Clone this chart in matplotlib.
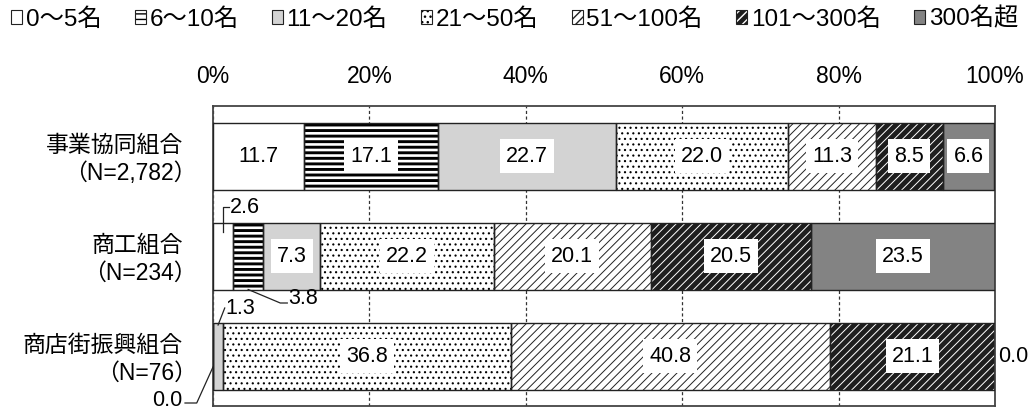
import matplotlib
matplotlib.use("Agg")
import matplotlib.pyplot as plt
from matplotlib.patches import Patch
from matplotlib.legend_handler import HandlerTuple

plt.rcParams["font.family"] = ["Liberation Sans", "Noto Sans CJK JP", "DejaVu Sans"]

# ---- data -------------------------------------------------------------
groups = ["事業協同組合", "商工組合", "商店街振興組合"]
group_n = ["（N=2,782）", "（N=234）", "（N=76）"]
size_classes = ["0〜5名", "6〜10名", "11〜20名", "21〜50名",
                "51〜100名", "101〜300名", "300名超"]

kyodo = [11.7, 17.1, 22.7, 22.0, 11.3, 8.5, 6.6]
shoko = [2.6, 3.8, 7.3, 22.2, 20.1, 20.5, 23.5]
shotengai = [0.0, 0.0, 1.3, 36.8, 40.8, 21.1, 0.0]
shares = [kyodo, shoko, shotengai]

x_ticks = [0, 20, 40, 60, 80, 100]
x_tick_labels = ["0%", "20%", "40%", "60%", "80%", "100%"]

# ---- styles per size class -------------------------------------------
styles = [
    dict(face="white", hatch=None, hcolor="none", hlw=1.0),
    dict(face="white", hatch="---", hcolor="black", hlw=2.1),
    dict(face="#d3d3d3", hatch=None, hcolor="none", hlw=1.0),
    dict(face="white", hatch="...", hcolor="black", hlw=0.8),
    dict(face="white", hatch="////", hcolor="#222222", hlw=0.7),
    dict(face="#1e1e1e", hatch="////", hcolor="white", hlw=0.7),
    dict(face="#838383", hatch=None, hcolor="none", hlw=1.0),
]
edge_col = "#222222"
bar_h = 0.67
label_fs = 15.5

fig = plt.figure(figsize=(10.34, 4.12), dpi=100)
ax = fig.add_axes([213 / 1034, 6 / 412, 782 / 1034, 300 / 412])

rows = list(range(len(groups)))
lefts = [0.0] * len(groups)
for j, st in enumerate(styles):
    widths = [shares[i][j] for i in rows]
    with plt.rc_context({"hatch.linewidth": st["hlw"]}):
        bars = ax.barh(rows, widths, left=lefts, height=bar_h,
                       color=st["face"], edgecolor=st["hcolor"],
                       hatch=st["hatch"], linewidth=0, zorder=2)
    for p in bars:
        if hasattr(p, "set_hatch_linewidth"):
            p.set_hatch_linewidth(st["hlw"])
    ax.barh(rows, widths, left=lefts, height=bar_h, fill=False,
            edgecolor=edge_col, linewidth=1.0, zorder=3)
    # value labels inside wide segments
    for i in rows:
        v = shares[i][j]
        if v >= 5:
            ax.text(lefts[i] + v / 2, i, f"{v:.1f}", ha="center", va="center",
                    fontsize=label_fs, zorder=5,
                    bbox=dict(boxstyle="square,pad=0.28", fc="white", ec="none"))
    lefts = [lefts[i] + widths[i] for i in rows]


def seg_mid(i, j):
    return sum(shares[i][:j]) + shares[i][j] / 2


# ---- call-outs for narrow segments -----------------------------------
line_kw = dict(color=edge_col, linewidth=0.9, zorder=6, clip_on=False)

# 商工組合 0〜5名
m = seg_mid(1, 0)
ax.plot([m, m, 2.0], [0.76, 0.507, 0.507], **line_kw)
ax.text(2.1, 0.51, f"{shares[1][0]:.1f}", ha="left", va="center", fontsize=label_fs)

# 商工組合 6〜10名
m = seg_mid(1, 1)
ax.plot([m, 8.6, 9.5], [1.335, 1.47, 1.47], **line_kw)
ax.text(9.6, 1.43, f"{shares[1][1]:.1f}", ha="left", va="center", fontsize=label_fs)

# 商店街振興組合 11〜20名
m = seg_mid(2, 2)
ax.plot([m, 1.5], [1.69, 1.52], **line_kw)
ax.text(1.6, 1.53, f"{shares[2][2]:.1f}", ha="left", va="center", fontsize=label_fs)

# 商店街振興組合 0〜5名
ax.plot([0.0, -2.08, -3.58], [2.11, 2.47, 2.47], **line_kw)
ax.text(-3.9, 2.5, f"{shares[2][0]:.1f}", ha="right", va="baseline",
        fontsize=label_fs, clip_on=False)

# 商店街振興組合 300名超
ax.text(100.4, 2.0, f"{shares[2][6]:.1f}", ha="left", va="center",
        fontsize=label_fs, clip_on=False)

# ---- axes ------------------------------------------------------------
ax.set_xlim(0, 100)
ax.set_ylim(2.5, -0.5)
ax.set_yticks([])
ax.xaxis.tick_top()
ax.set_xticks(x_ticks)
ax.set_xticklabels(x_tick_labels)
ax.tick_params(axis="x", length=0, pad=13, labelsize=16.5)
ax.set_axisbelow(True)
ax.grid(axis="x", linestyle=(0, (2.5, 2)), color="#333333", linewidth=0.9)
for sp in ax.spines.values():
    sp.set_linewidth(1.3)
    sp.set_color("#444444")

for i in rows:
    ax.text(-3.84, i - 0.11, groups[i], ha="right", va="center",
            fontsize=16.5, clip_on=False)
    ax.text(-2.1, i + 0.17, group_n[i], ha="right", va="center",
            fontsize=16.5, clip_on=False)

# ---- legend ------------------------------------------------------------
handles = []
for st in styles:
    fill = Patch(facecolor=st["face"], edgecolor=st["hcolor"],
                 hatch=st["hatch"], linewidth=0)
    outline = Patch(fill=False, edgecolor=edge_col, linewidth=0.8)
    handles.append((fill, outline))

fig.legend(handles, size_classes, ncol=7, loc="center left",
           bbox_to_anchor=(11 / 1034, 1 - 19 / 412), frameon=False,
           fontsize=17.5, handlelength=0.46, handleheight=0.46,
           handletextpad=0.14, columnspacing=1.38, borderpad=0,
           borderaxespad=0,
           handler_map={tuple: HandlerTuple(ndivide=1, pad=0)})

fig.savefig("out.png", dpi=100)
